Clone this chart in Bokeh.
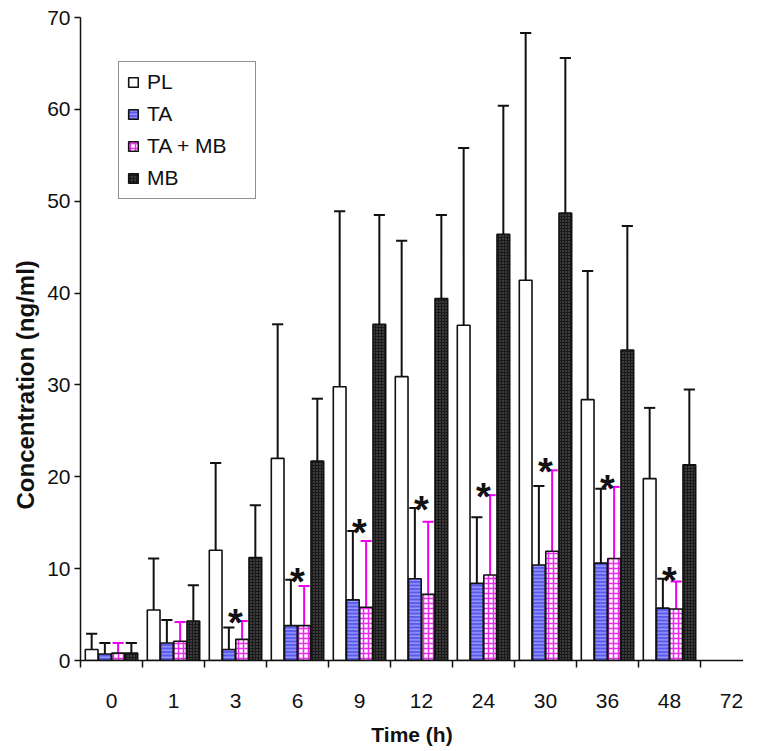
import numpy as np
from bokeh.plotting import figure
from bokeh.models import Range1d, FixedTicker, Legend, LegendItem, ColumnDataSource, Title
from bokeh.core.properties import value
from bokeh.embed import file_html
from bokeh.resources import INLINE

# ---------------- data ----------------
time_labels = ["0", "1", "3", "6", "9", "12", "24", "30", "36", "48", "72"]
series_names = ["PL", "TA", "TA + MB", "MB"]
pl_mean = [1.2, 5.5, 12.0, 22.0, 29.8, 30.9, 36.5, 41.4, 28.4, 19.8]
pl_sd = [1.7, 5.6, 9.5, 14.6, 19.1, 14.8, 19.3, 26.9, 14.0, 7.7]
ta_mean = [0.7, 1.9, 1.2, 3.8, 6.6, 8.9, 8.4, 10.4, 10.6, 5.7]
ta_sd = [1.2, 2.5, 2.4, 5.0, 7.5, 7.7, 7.2, 8.6, 8.1, 3.2]
tamb_mean = [0.8, 2.1, 2.3, 3.8, 5.8, 7.2, 9.3, 11.9, 11.1, 5.6]
tamb_sd = [1.1, 2.1, 2.0, 4.3, 7.2, 7.9, 8.7, 8.8, 7.8, 3.0]
mb_mean = [0.8, 4.3, 11.2, 21.7, 36.6, 39.4, 46.4, 48.7, 33.8, 21.3]
mb_sd = [1.1, 3.9, 5.7, 6.8, 11.9, 9.1, 14.0, 16.9, 13.5, 8.2]
star_times = ["3", "6", "9", "12", "24", "30", "36", "48"]
y_ticks = [0, 10, 20, 30, 40, 50, 60, 70]

FONT = "Liberation Sans"
PX_PER_CAT = 62.0
FRAME_W = 663

p = figure(
    frame_width=FRAME_W, frame_height=643,
    x_range=Range1d(0, FRAME_W / PX_PER_CAT), y_range=Range1d(0, 70),
    output_backend="svg", toolbar_location=None,
    min_border_left=80, min_border_right=0, min_border_top=17, min_border_bottom=0,
)
p.outline_line_color = None
p.xgrid.visible = False
p.ygrid.visible = False
p.background_fill_color = "white"

n = len(pl_mean)
centers = np.arange(n) + 0.5
offsets = [-0.32, -0.107, 0.107, 0.32]
bar_w = 0.205
cap = 0.09

means = [pl_mean, ta_mean, tamb_mean, mb_mean]
sds = [pl_sd, ta_sd, tamb_sd, mb_sd]
styles = [
    dict(fill_color="white"),
    dict(fill_color="#5a5aee", hatch_pattern="horizontal_line", hatch_color="#b4b4ff",
         hatch_scale=3.5, hatch_weight=1),
    dict(fill_color="white", hatch_pattern="cross", hatch_color="#ec2cec",
         hatch_scale=5, hatch_weight=1.6),
    dict(fill_color="#1a1a1a", hatch_pattern="dot", hatch_color="#6e6e6e",
         hatch_scale=3, hatch_weight=1),
]
err_colors = ["#111111", "#111111", "#ee00ee", "#111111"]

renderers = []
for k in range(4):
    xs = centers + offsets[k]
    m = np.array(means[k], dtype=float)
    s = np.array(sds[k], dtype=float)
    src = ColumnDataSource(dict(x=xs, top=m, up=m + s, x0=xs - cap, x1=xs + cap))
    p.segment(x0="x", y0="top", x1="x", y1="up", source=src,
              line_color=err_colors[k], line_width=2)
    p.segment(x0="x0", y0="up", x1="x1", y1="up", source=src,
              line_color=err_colors[k], line_width=2)
    r = p.vbar(x="x", top="top", bottom=0, width=bar_w, source=src,
               line_color="#111111", line_width=1.6, **styles[k])
    renderers.append(r)

# significance stars
idx = [time_labels.index(t) for t in star_times]
star_x = [centers[i] for i in idx]
star_y = [max(ta_mean[i] + ta_sd[i], tamb_mean[i] + tamb_sd[i]) for i in idx]
p.text(x=star_x, y=star_y, text=["*"] * len(idx), text_align="center",
       text_baseline="middle", y_offset=2, text_font=value(FONT),
       text_font_style="bold", text_font_size="38px", text_color="#111111")

# legend
legend = Legend(
    items=[LegendItem(label=series_names[k], renderers=[renderers[k]]) for k in range(4)],
    location=(38, 461), margin=0,
    label_text_font=FONT, label_text_font_size="21px", label_text_color="#111111",
    glyph_width=12, glyph_height=12, label_height=20, label_width=100,
    spacing=8, padding=8, label_standoff=8,
    border_line_color="#222222", border_line_width=1.6,
    background_fill_color="white", background_fill_alpha=1.0,
)
p.add_layout(legend, "center")

# x axis: labels at category centres, separators as minor ticks
xa = p.xaxis[0]
xa.ticker = FixedTicker(ticks=list(np.arange(len(time_labels)) + 0.5),
                        minor_ticks=list(range(len(time_labels))))
xa.major_label_overrides = {float(i + 0.5): lab for i, lab in enumerate(time_labels)}
xa.major_tick_out = 0
xa.major_tick_in = 0
xa.minor_tick_out = 7
xa.minor_tick_in = 0
xa.minor_tick_line_color = "#111111"
xa.minor_tick_line_width = 1.5
xa.axis_line_color = "#111111"
xa.axis_line_width = 1.5
xa.major_label_text_font = FONT
xa.major_label_text_font_size = "21px"
xa.major_label_text_color = "#111111"
xa.major_label_standoff = 26
xa.axis_label = "Time (h)"
xa.axis_label_text_font = FONT
xa.axis_label_text_font_size = "21px"
xa.axis_label_text_font_style = "bold"
xa.axis_label_text_color = "#111111"
xa.axis_label_standoff = 12

ya = p.yaxis[0]
ya.ticker = FixedTicker(ticks=y_ticks, minor_ticks=[])
ya.major_tick_out = 6
ya.major_tick_in = 0
ya.major_tick_line_color = "#111111"
ya.major_tick_line_width = 1.5
ya.minor_tick_out = 0
ya.minor_tick_in = 0
ya.axis_line_color = "#111111"
ya.axis_line_width = 1.5
ya.major_label_text_font = FONT
ya.major_label_text_font_size = "21px"
ya.major_label_text_color = "#111111"
ya.major_label_standoff = 4

ytitle = Title(text="Concentration (ng/ml)", align="left", offset=151,
               text_font=FONT, text_font_size="24px", text_font_style="bold",
               text_color="#111111", standoff=12)
p.add_layout(ytitle, "left")

open("out.html", "w").write(file_html(p, INLINE))
